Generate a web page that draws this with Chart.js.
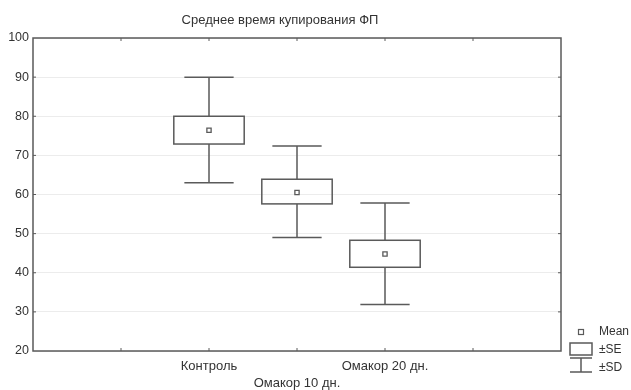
<!DOCTYPE html>
<html>
<head>
<meta charset="utf-8">
<script src="https://cdn.jsdelivr.net/npm/chart.js@4.4.1/dist/chart.umd.min.js"></script>
<style>
  html, body { margin: 0; padding: 0; background: #fff; }
  #wrap { width: 631px; height: 390px; }
</style>
</head>
<body>
<div id="wrap"><canvas id="chart"></canvas></div>
<script>
// data
const categories = ['Контроль', 'Омакор 10 дн.', 'Омакор 20 дн.'];
const positions = [2, 3, 4];
const means = [76.4, 60.5, 44.8];
const seLow = [72.9, 57.6, 41.4];
const seHigh = [80.0, 63.9, 48.3];
const sdLow = [63.0, 49.0, 31.9];
const sdHigh = [90.0, 72.4, 57.8];
const yTicks = [20, 30, 40, 50, 60, 70, 80, 90, 100];

const LINE = '#5a5a5a';
const TEXT = '#333';
const FONT = '"Liberation Sans", Arial, sans-serif';

// boxes, whiskers, frame, inner ticks, title and legend
const boxPlot = {
  id: 'boxPlot',
  beforeDatasetsDraw(chart) {
    const { ctx, scales: { x, y } } = chart;
    ctx.save();
    ctx.strokeStyle = LINE;
    ctx.lineWidth = 1.5;
    positions.forEach((p, i) => {
      const cx = x.getPixelForValue(p);
      const capL = x.getPixelForValue(p - 0.28), capR = x.getPixelForValue(p + 0.28);
      const bL = x.getPixelForValue(p - 0.4), bR = x.getPixelForValue(p + 0.4);
      const top = y.getPixelForValue(sdHigh[i]), bot = y.getPixelForValue(sdLow[i]);
      const sTop = y.getPixelForValue(seHigh[i]), sBot = y.getPixelForValue(seLow[i]);
      ctx.beginPath();
      ctx.moveTo(cx, top); ctx.lineTo(cx, sTop);
      ctx.moveTo(cx, sBot); ctx.lineTo(cx, bot);
      ctx.moveTo(capL, top); ctx.lineTo(capR, top);
      ctx.moveTo(capL, bot); ctx.lineTo(capR, bot);
      ctx.stroke();
      ctx.strokeRect(bL, sTop, bR - bL, sBot - sTop);
    });
    ctx.restore();
  },
  afterDraw(chart) {
    const { ctx, chartArea: a, scales: { x, y } } = chart;
    ctx.save();
    ctx.strokeStyle = LINE;
    ctx.lineWidth = 1.5;
    ctx.strokeRect(a.left, a.top, a.right - a.left, a.bottom - a.top);
    // small inner tick marks
    ctx.lineWidth = 1;
    ctx.beginPath();
    x.ticks.forEach(t => {
      const px = x.getPixelForValue(t.value);
      if (t.value <= x.min || t.value >= x.max) return;
      ctx.moveTo(px, a.top); ctx.lineTo(px, a.top + 3);
      ctx.moveTo(px, a.bottom); ctx.lineTo(px, a.bottom - 3);
    });
    y.ticks.forEach(t => {
      const py = y.getPixelForValue(t.value);
      if (t.value <= y.min || t.value >= y.max) return;
      ctx.moveTo(a.left, py); ctx.lineTo(a.left + 3, py);
      ctx.moveTo(a.right, py); ctx.lineTo(a.right - 3, py);
    });
    ctx.stroke();

    // title
    ctx.fillStyle = TEXT;
    ctx.font = '13px ' + FONT;
    ctx.textAlign = 'center';
    ctx.textBaseline = 'middle';
    ctx.fillText('Среднее время купирования ФП', 280, 20);

    // legend
    const lx = 581;
    ctx.textAlign = 'left';
    ctx.font = '12px ' + FONT;
    ctx.strokeStyle = LINE;
    ctx.lineWidth = 1.2;
    ctx.strokeRect(lx - 2.5, 329.5, 5, 5);
    ctx.fillText('Mean', 599, 332);
    ctx.lineWidth = 1.5;
    ctx.strokeRect(lx - 11, 343, 22, 12);
    ctx.fillText('±SE', 599, 350);
    ctx.beginPath();
    ctx.moveTo(lx - 11, 358); ctx.lineTo(lx + 11, 358);
    ctx.moveTo(lx, 358); ctx.lineTo(lx, 372);
    ctx.moveTo(lx - 11, 372); ctx.lineTo(lx + 11, 372);
    ctx.stroke();
    ctx.fillText('±SD', 599, 368);
    ctx.restore();
  }
};

new Chart(document.getElementById('chart'), {
  type: 'scatter',
  data: {
    datasets: [{
      label: 'Mean',
      data: positions.map((p, i) => ({ x: p, y: means[i] })),
      pointStyle: 'rect',
      pointRadius: 3,
      borderColor: LINE,
      borderWidth: 1.3,
      backgroundColor: '#fff'
    }]
  },
  options: {
    responsive: true,
    maintainAspectRatio: false,
    animation: false,
    layout: { padding: { top: 38, right: 70, left: 0, bottom: 0 } },
    plugins: {
      legend: { display: false },
      title: { display: false },
      tooltip: { enabled: false }
    },
    scales: {
      x: {
        type: 'linear',
        min: 0,
        max: 6,
        afterFit(scale) { scale.height = 39; },
        afterBuildTicks(scale) { scale.ticks = [0, 1, 2, 3, 4, 5, 6].map(v => ({ value: v })); },
        grid: { display: false, drawTicks: false },
        border: { display: false },
        ticks: {
          autoSkip: false,
          maxRotation: 0,
          padding: 6,
          color: TEXT,
          font: { family: FONT, size: 13, lineHeight: 1.38 },
          callback(v) {
            const i = positions.indexOf(v);
            if (i < 0) return '';
            return i === 1 ? ['', categories[i]] : categories[i];
          }
        }
      },
      y: {
        min: 20,
        max: 100,
        afterFit(scale) { scale.width = 33; },
        afterBuildTicks(scale) { scale.ticks = yTicks.map(v => ({ value: v })); },
        grid: { color: '#ececec', lineWidth: 1, drawTicks: false },
        border: { display: false },
        ticks: {
          padding: 4,
          color: TEXT,
          font: { family: FONT, size: 12.5 }
        }
      }
    }
  },
  plugins: [boxPlot]
});
</script>
</body>
</html>
